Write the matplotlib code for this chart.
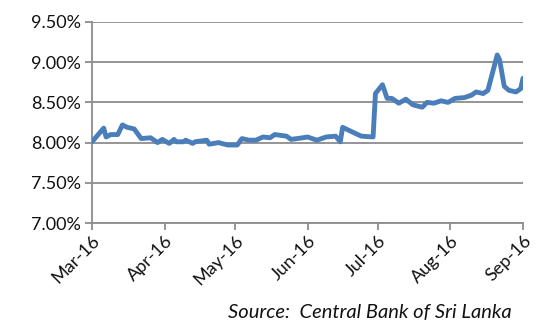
import matplotlib
matplotlib.use("Agg")
import matplotlib.pyplot as plt
import matplotlib.dates as mdates
import pandas as pd

dates = ["2016-03-01", "2016-03-06", "2016-03-07", "2016-03-09", "2016-03-12", "2016-03-14",
         "2016-03-16", "2016-03-19", "2016-03-22", "2016-03-26", "2016-03-29", "2016-03-31",
         "2016-04-03", "2016-04-05", "2016-04-06", "2016-04-09", "2016-04-10", "2016-04-13",
         "2016-04-14", "2016-04-19", "2016-04-20", "2016-04-24", "2016-04-28", "2016-05-02",
         "2016-05-04", "2016-05-07", "2016-05-10", "2016-05-13", "2016-05-16", "2016-05-18",
         "2016-05-23", "2016-05-25", "2016-05-30", "2016-06-01", "2016-06-05", "2016-06-09",
         "2016-06-13", "2016-06-15", "2016-06-16", "2016-06-21", "2016-06-24", "2016-06-29",
         "2016-06-30", "2016-07-03", "2016-07-05", "2016-07-07", "2016-07-10", "2016-07-13",
         "2016-07-16", "2016-07-20", "2016-07-22", "2016-07-25", "2016-07-28", "2016-07-31",
         "2016-08-03", "2016-08-07", "2016-08-10", "2016-08-12", "2016-08-15", "2016-08-17",
         "2016-08-21", "2016-08-22", "2016-08-24", "2016-08-26", "2016-08-29", "2016-08-31",
         "2016-09-01"]
rates = [8.01, 8.18, 8.07, 8.10, 8.10, 8.22,
         8.19, 8.17, 8.05, 8.06, 8.00, 8.04,
         7.99, 8.04, 8.01, 8.01, 8.03, 7.99,
         8.01, 8.03, 7.98, 8.00, 7.97, 7.97,
         8.05, 8.03, 8.03, 8.07, 8.06, 8.10,
         8.08, 8.04, 8.06, 8.07, 8.03, 8.07,
         8.08, 8.01, 8.19, 8.12, 8.08, 8.07,
         8.61, 8.72, 8.55, 8.55, 8.49, 8.54,
         8.47, 8.44, 8.50, 8.49, 8.52, 8.50,
         8.55, 8.56, 8.59, 8.63, 8.61, 8.65,
         9.09, 9.03, 8.70, 8.65, 8.63, 8.67,
         8.80]
y_ticks = [7.00, 7.50, 8.00, 8.50, 9.00, 9.50]
x_ticks = ["2016-03-01", "2016-04-01", "2016-05-01", "2016-06-01", "2016-07-01", "2016-08-01", "2016-09-01"]
x_labels = ["Mar-16", "Apr-16", "May-16", "Jun-16", "Jul-16", "Aug-16", "Sep-16"]
source = "Source:  Central Bank of Sri Lanka"

plt.rcParams['font.family'] = ['Lato', 'DejaVu Sans']
grey = "#8c8c8c"

fig = plt.figure(figsize=(5.38, 3.24), dpi=100)
ax = fig.add_axes([92/538, 1-223/324, (523-92)/538, (223-22)/324])

d = pd.to_datetime(dates)
ax.plot(d, rates, color="#4a7ebb", lw=3.5, solid_joinstyle="round", solid_capstyle="round", zorder=3)

ax.set_ylim(7.0, 9.5)
ax.set_yticks(y_ticks)
ax.set_yticklabels([f"{v:.2f}%" for v in y_ticks])
xt = pd.to_datetime(x_ticks)
ax.set_xlim(xt[0], xt[-1])
ax.set_xticks(xt)
ax.set_xticklabels(x_labels, rotation=45, ha="right", va="top", rotation_mode="anchor")

ax.grid(axis="y", color=grey, lw=1.3)
ax.set_axisbelow(True)
for s in ["top", "right"]:
    ax.spines[s].set_visible(False)
for s in ["left", "bottom"]:
    ax.spines[s].set_color(grey)
    ax.spines[s].set_linewidth(1.3)
ax.tick_params(axis="both", colors=grey, length=5, width=1.3, labelcolor="#111111", labelsize=13)
ax.tick_params(axis="y", pad=3)
ax.tick_params(axis="x", pad=2)

fig.text(512/538, 1-312/324, source, ha="right", va="center", style="italic", fontsize=14.5, color="#111111")

fig.savefig("out.png", dpi=100)
